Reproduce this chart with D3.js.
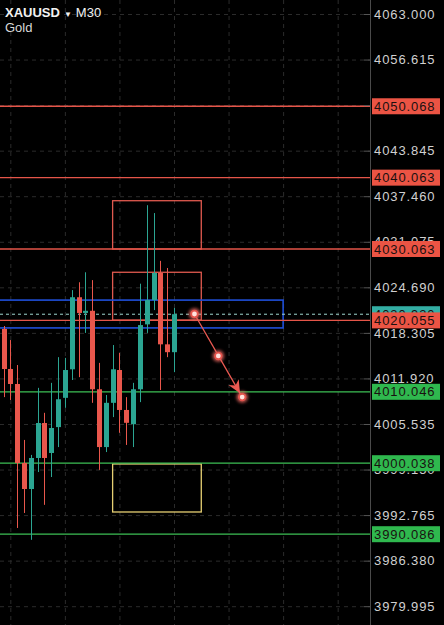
<!DOCTYPE html>
<html lang="en">
    <head>
        <meta charset="utf-8">
        <title>XAUUSD M30</title>
        <script src="https://d3js.org/d3.v7.min.js"></script>
        <style type="text/css">
            body { margin: 0; background: #000; }
            text { font-family: "Liberation Sans", Helvetica, Arial, sans-serif; }
        </style>
    </head>
    <body>
        <script>
            // data
            var symbol = "XAUUSD";
            var timeframe = "M30";
            var description = "Gold";

            // candles: [open, high, low, close]
            var opens  = [4018.85, 4013.24, 4011.14, 4000.07, 3996.42, 4000.77, 4005.67, 4001.47, 4005.10, 4009.20,
                          4013.20, 4023.30, 4021.10, 4021.40, 4010.40, 4002.30, 4008.50, 4013.10, 4007.50, 4005.50,
                          4010.40, 4019.50, 4022.90, 4026.70, 4016.70, 4015.60];
            var highs  = [4019.27, 4017.30, 4013.80, 4003.30, 4001.20, 4010.60, 4007.10, 4011.30, 4014.90, 4014.80,
                          4024.30, 4025.40, 4026.80, 4025.70, 4014.10, 4009.60, 4016.60, 4015.50, 4009.30, 4011.30,
                          4025.20, 4036.20, 4035.10, 4028.40, 4027.40, 4021.80];
            var lows   = [4009.30, 4008.90, 3990.96, 3993.06, 3989.30, 3998.80, 3994.20, 3998.10, 4002.30, 4007.80,
                          4011.70, 4012.10, 4018.30, 4008.50, 3999.10, 4001.60, 4006.50, 4004.30, 4002.60, 4002.30,
                          4008.60, 4018.30, 4021.50, 4010.30, 4014.90, 4012.80];
            var closes = [4013.24, 4011.14, 4000.07, 3996.42, 4000.77, 4005.67, 4000.77, 4004.97, 4009.00, 4013.10,
                          4023.30, 4021.10, 4021.40, 4010.40, 4002.30, 4008.50, 4013.20, 4007.50, 4005.70, 4010.40,
                          4019.40, 4022.90, 4026.70, 4016.70, 4015.60, 4020.92];

            var priceTicks = [4063.000, 4056.615, 4050.230, 4043.845, 4037.460, 4031.075, 4024.690,
                              4018.305, 4011.920, 4005.535, 3999.150, 3992.765, 3986.380, 3979.995];
            var timeGrid = [1, 9, 17, 25, 33, 41, 49];

            var bidPrice = 4020.920;
            var resistanceLevels = [4050.068, 4040.063, 4030.063, 4020.055];
            var supportLevels = [4010.046, 4000.038, 3990.086];

            // zones: [startBar, endBar, topPrice, bottomPrice, kind]
            var zones = [
                [16, 29, 4036.83, 4030.06, "sell"],
                [16, 29, 4026.80, 4020.10, "sell"],
                [-5, 41, 4022.90, 4019.00, "range"],
                [16, 29, 3999.93, 3993.20, "buy"]
            ];

            // projected path: [bar, price]
            var arrowPoints = [[28, 4020.95], [31.5, 4015.07], [35, 4009.30]];

            // configuration code
            var width = 444;
            var height = 625;
            var axisX = 370;

            var colors = {
                up: "#2ba592",
                down: "#e9574c",
                resist: "#e55549",
                support: "#3dbf55",
                resistBox: "#eb5444",
                supportBox: "#2fb84e",
                bid: "#33aea4",
                sell: "#e0594f",
                range: "#1f4fd8",
                buy: "#e6cf72",
                grid: "#2b2b2b",
                text: "#d0d0d0"
            };

            var candles = opens.map(function(o, i) {
                return { i: i, o: o, h: highs[i], l: lows[i], c: closes[i] };
            });

            var svg = d3.select("body")
                .append("svg")
                .attr("width", width)
                .attr("height", height)
                .style("background", "#000");

            var x = d3.scaleLinear().domain([0, 25]).range([3.5, 174]);
            var y = d3.scaleLinear().domain([3979.995, 4063]).range([606.2, 14]);

            // grid
            svg.append("g")
                .attr("class", "hgrid")
                .call(d3.axisLeft(y).tickValues(priceTicks).tickSize(-axisX).tickFormat(""))
                .call(function(g) {
                    g.select(".domain").remove();
                    g.selectAll("line").attr("stroke", colors.grid).attr("stroke-dasharray", "4,4");
                });

            svg.append("g")
                .attr("class", "vgrid")
                .call(d3.axisBottom(x).tickValues(timeGrid).tickSize(height).tickFormat(""))
                .call(function(g) {
                    g.select(".domain").remove();
                    g.selectAll("line").attr("stroke", colors.grid).attr("stroke-dasharray", "4,4");
                });

            // zones
            svg.selectAll(".zone")
                .data(zones)
                .enter()
                .append("rect")
                .attr("class", "zone")
                .attr("x", function(d) { return x(d[0]); })
                .attr("y", function(d) { return y(d[2]); })
                .attr("width", function(d) { return x(d[1]) - x(d[0]); })
                .attr("height", function(d) { return y(d[3]) - y(d[2]); })
                .attr("fill", "none")
                .attr("stroke", function(d) { return colors[d[4]]; })
                .attr("stroke-width", function(d) { return d[4] === "range" ? 1.6 : 1.3; });

            // level lines
            svg.selectAll(".resist")
                .data(resistanceLevels)
                .enter()
                .append("line")
                .attr("class", "resist")
                .attr("x1", 0).attr("x2", axisX)
                .attr("y1", function(d) { return y(d); })
                .attr("y2", function(d) { return y(d); })
                .attr("stroke", colors.resist)
                .attr("stroke-width", 1.3);

            svg.selectAll(".support")
                .data(supportLevels)
                .enter()
                .append("line")
                .attr("class", "support")
                .attr("x1", 0).attr("x2", axisX)
                .attr("y1", function(d) { return y(d); })
                .attr("y2", function(d) { return y(d); })
                .attr("stroke", colors.support)
                .attr("stroke-width", 1.3);

            // bid line
            svg.append("line")
                .attr("x1", 0).attr("x2", axisX)
                .attr("y1", y(bidPrice)).attr("y2", y(bidPrice))
                .attr("stroke", "#9fd6cf")
                .attr("stroke-width", 1)
                .attr("stroke-dasharray", "3,3");

            // candles
            var candle = svg.selectAll(".candle")
                .data(candles)
                .enter()
                .append("g")
                .attr("class", "candle");

            candle.append("line")
                .attr("x1", function(d) { return Math.round(x(d.i)) + 0.5; })
                .attr("x2", function(d) { return Math.round(x(d.i)) + 0.5; })
                .attr("y1", function(d) { return y(d.h); })
                .attr("y2", function(d) { return y(d.l); })
                .attr("stroke", function(d) { return d.c >= d.o ? colors.up : colors.down; })
                .attr("stroke-width", 1);

            candle.append("rect")
                .attr("x", function(d) { return Math.round(x(d.i)) - 2; })
                .attr("width", 5)
                .attr("y", function(d) { return y(Math.max(d.o, d.c)); })
                .attr("height", function(d) { return Math.max(1.5, Math.abs(y(d.o) - y(d.c))); })
                .attr("fill", function(d) { return d.c >= d.o ? colors.up : colors.down; });

            // projected arrow
            var defs = svg.append("defs");
            defs.append("marker")
                .attr("id", "head")
                .attr("viewBox", "0 0 12 12")
                .attr("refX", 16)
                .attr("refY", 6)
                .attr("markerWidth", 13)
                .attr("markerHeight", 13)
                .attr("markerUnits", "userSpaceOnUse")
                .attr("orient", "auto")
                .append("path")
                .attr("d", "M0,0.5 L12,6 L0,11.5 L3.5,6 Z")
                .attr("fill", "#ec5a52");

            var glow = defs.append("filter").attr("id", "glow")
                .attr("x", "-100%").attr("y", "-100%").attr("width", "300%").attr("height", "300%");
            glow.append("feGaussianBlur").attr("stdDeviation", 1.6);

            var first = arrowPoints[0];
            var last = arrowPoints[arrowPoints.length - 1];
            svg.append("line")
                .attr("x1", x(first[0])).attr("y1", y(first[1]))
                .attr("x2", x(last[0])).attr("y2", y(last[1]))
                .attr("stroke", "#ec5a52")
                .attr("stroke-width", 1.3)
                .attr("marker-end", "url(#head)");

            var pts = svg.selectAll(".pt")
                .data(arrowPoints)
                .enter()
                .append("g")
                .attr("class", "pt")
                .attr("transform", function(d) { return "translate(" + x(d[0]) + "," + y(d[1]) + ")"; });
            pts.append("circle").attr("r", 6).attr("fill", "#f06a64").attr("opacity", 0.7).attr("filter", "url(#glow)");
            pts.append("circle").attr("r", 4.2).attr("fill", "#e4544c");
            pts.append("circle").attr("r", 2.4).attr("fill", "#ffe2de");

            // price axis
            svg.append("line")
                .attr("x1", axisX + 0.5).attr("x2", axisX + 0.5)
                .attr("y1", 0).attr("y2", height)
                .attr("stroke", "#4a4a4a");

            var fmt = d3.format(".3f");

            svg.append("g")
                .attr("class", "yaxis")
                .attr("transform", "translate(" + axisX + ",0)")
                .call(d3.axisRight(y).tickValues(priceTicks).tickSizeInner(-6).tickSizeOuter(0).tickPadding(4).tickFormat(fmt))
                .call(function(g) {
                    g.select(".domain").remove();
                    g.selectAll("line").attr("stroke", "#555");
                    g.selectAll("text")
                        .attr("fill", colors.text)
                        .style("font-size", "13px")
                        .style("letter-spacing", "0.9px");
                });

            // price labels
            function priceLabel(value, fill) {
                var g = svg.append("g")
                    .attr("transform", "translate(" + (axisX + 2) + "," + y(value) + ")");
                g.append("rect")
                    .attr("x", 0).attr("y", -8)
                    .attr("width", 68).attr("height", 16)
                    .attr("fill", fill);
                g.append("text")
                    .attr("x", 2)
                    .attr("dy", "0.36em")
                    .attr("fill", "#1a1010")
                    .style("font-size", "13px")
                    .style("letter-spacing", "0.9px")
                    .text(fmt(value));
            }

            priceLabel(bidPrice, colors.bid);
            resistanceLevels.forEach(function(v) { priceLabel(v, colors.resistBox); });
            supportLevels.forEach(function(v) { priceLabel(v, colors.supportBox); });

            // title
            var title = svg.append("text")
                .attr("x", 5)
                .attr("y", 17)
                .attr("fill", "#f2f2f2")
                .style("font-size", "13px");
            title.append("tspan").style("font-weight", "bold").text(symbol);
            title.append("tspan").attr("dx", 4).style("font-size", "8px").text("▼");
            title.append("tspan").attr("dx", 4).text(timeframe);

            svg.append("text")
                .attr("x", 5)
                .attr("y", 32)
                .attr("fill", "#d8d8d8")
                .style("font-size", "13px")
                .text(description);
        </script>
    </body>
</html>
